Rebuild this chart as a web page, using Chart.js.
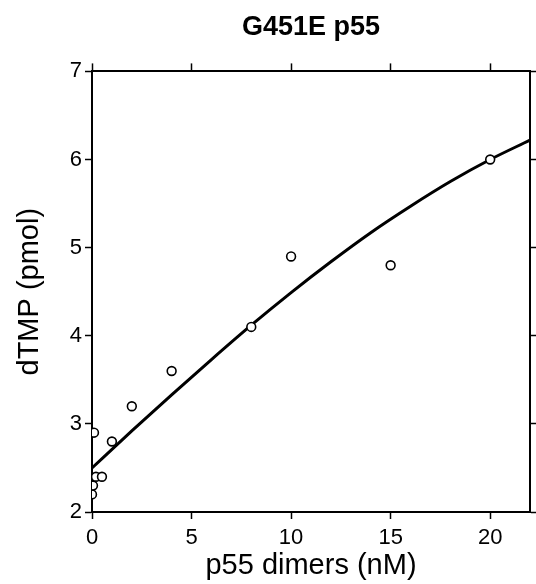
<!DOCTYPE html>
<html>
<head>
<meta charset="utf-8">
<script src="https://cdn.jsdelivr.net/npm/chart.js@4"></script>
<style>
  html, body { margin: 0; padding: 0; background: #fff; }
  #wrap { width: 536px; height: 584px; }
</style>
</head>
<body>
<div id="wrap"><canvas id="dtmpChart" width="536" height="584"></canvas></div>
<script>
// measured points
const dimersNM = [0, 0.05, 0.1, 0.2, 0.5, 1, 2, 4, 8, 10, 15, 20];
const dtmpPmol = [2.2, 2.3, 2.9, 2.4, 2.4, 2.8, 3.2, 3.6, 4.1, 4.9, 4.8, 6.0];

// fitted curve
const fitX = [0, 2, 4, 6, 8, 10, 12, 14, 16, 18, 20, 22];
const fitY = [2.5, 2.92, 3.33, 3.73, 4.12, 4.49, 4.84, 5.17, 5.47, 5.75, 6.0, 6.22];

const xTicks = [0, 5, 10, 15, 20];
const yTicks = [2, 3, 4, 5, 6, 7];

const font = 'Liberation Sans, Arial, Helvetica, sans-serif';
Chart.defaults.font.family = font;
Chart.defaults.color = '#000';

const toXY = (xs, ys) => xs.map((x, i) => ({ x: x, y: ys[i] }));

const axisBorder = { display: true, color: '#000', width: 2 };
const tickGrid = (len) => ({
  drawOnChartArea: false,
  drawTicks: true,
  tickLength: len,
  tickColor: '#000',
  tickWidth: 1.5
});

const ctx = document.getElementById('dtmpChart').getContext('2d');

new Chart(ctx, {
  type: 'scatter',
  data: {
    datasets: [{
      label: 'data',
      data: toXY(dimersNM, dtmpPmol),
      pointRadius: 4.4,
      pointBorderWidth: 1.6,
      pointBorderColor: '#000',
      pointBackgroundColor: '#fff',
      showLine: false
    }, {
      label: 'fit',
      data: toXY(fitX, fitY),
      showLine: true,
      borderColor: '#000',
      borderWidth: 3,
      pointRadius: 0,
      cubicInterpolationMode: 'monotone'
    }]
  },
  options: {
    responsive: false,
    animation: false,
    layout: { padding: 0 },
    plugins: {
      legend: { display: false },
      tooltip: { enabled: false },
      title: {
        display: true,
        text: 'G451E p55',
        fullSize: false,
        color: '#000',
        font: { size: 27, weight: 'bold' },
        padding: { top: 11, bottom: 20 }
      }
    },
    scales: {
      x: {
        type: 'linear',
        position: 'bottom',
        min: 0,
        max: 22,
        afterBuildTicks: (s) => { s.ticks = xTicks.map(v => ({ value: v })); },
        ticks: { font: { size: 22 }, padding: 6, color: '#000', maxRotation: 0 },
        grid: tickGrid(7),
        border: axisBorder,
        title: {
          display: true,
          text: 'p55 dimers (nM)',
          color: '#000',
          font: { size: 29 },
          padding: { top: 0, bottom: 0.5 }
        },
        afterFit: (s) => { s.height = 72; }
      },
      x2: {
        type: 'linear',
        position: 'top',
        min: 0,
        max: 22,
        afterBuildTicks: (s) => { s.ticks = xTicks.map(v => ({ value: v })); },
        ticks: { display: false },
        grid: tickGrid(8),
        border: axisBorder
      },
      y: {
        type: 'linear',
        position: 'left',
        min: 2,
        max: 7,
        afterBuildTicks: (s) => { s.ticks = yTicks.map(v => ({ value: v })); },
        ticks: { font: { size: 22 }, padding: 3, color: '#000' },
        grid: tickGrid(7),
        border: axisBorder,
        title: {
          display: true,
          text: 'dTMP (pmol)',
          color: '#000',
          font: { size: 29 },
          padding: { top: 12.6, bottom: 0 }
        },
        afterFit: (s) => { s.width = 92; }
      },
      y2: {
        type: 'linear',
        position: 'right',
        min: 2,
        max: 7,
        afterBuildTicks: (s) => { s.ticks = yTicks.map(v => ({ value: v })); },
        ticks: { display: false },
        grid: tickGrid(7),
        border: axisBorder,
        afterFit: (s) => { s.width = 4.3; }
      }
    }
  }
});
</script>
</body>
</html>
